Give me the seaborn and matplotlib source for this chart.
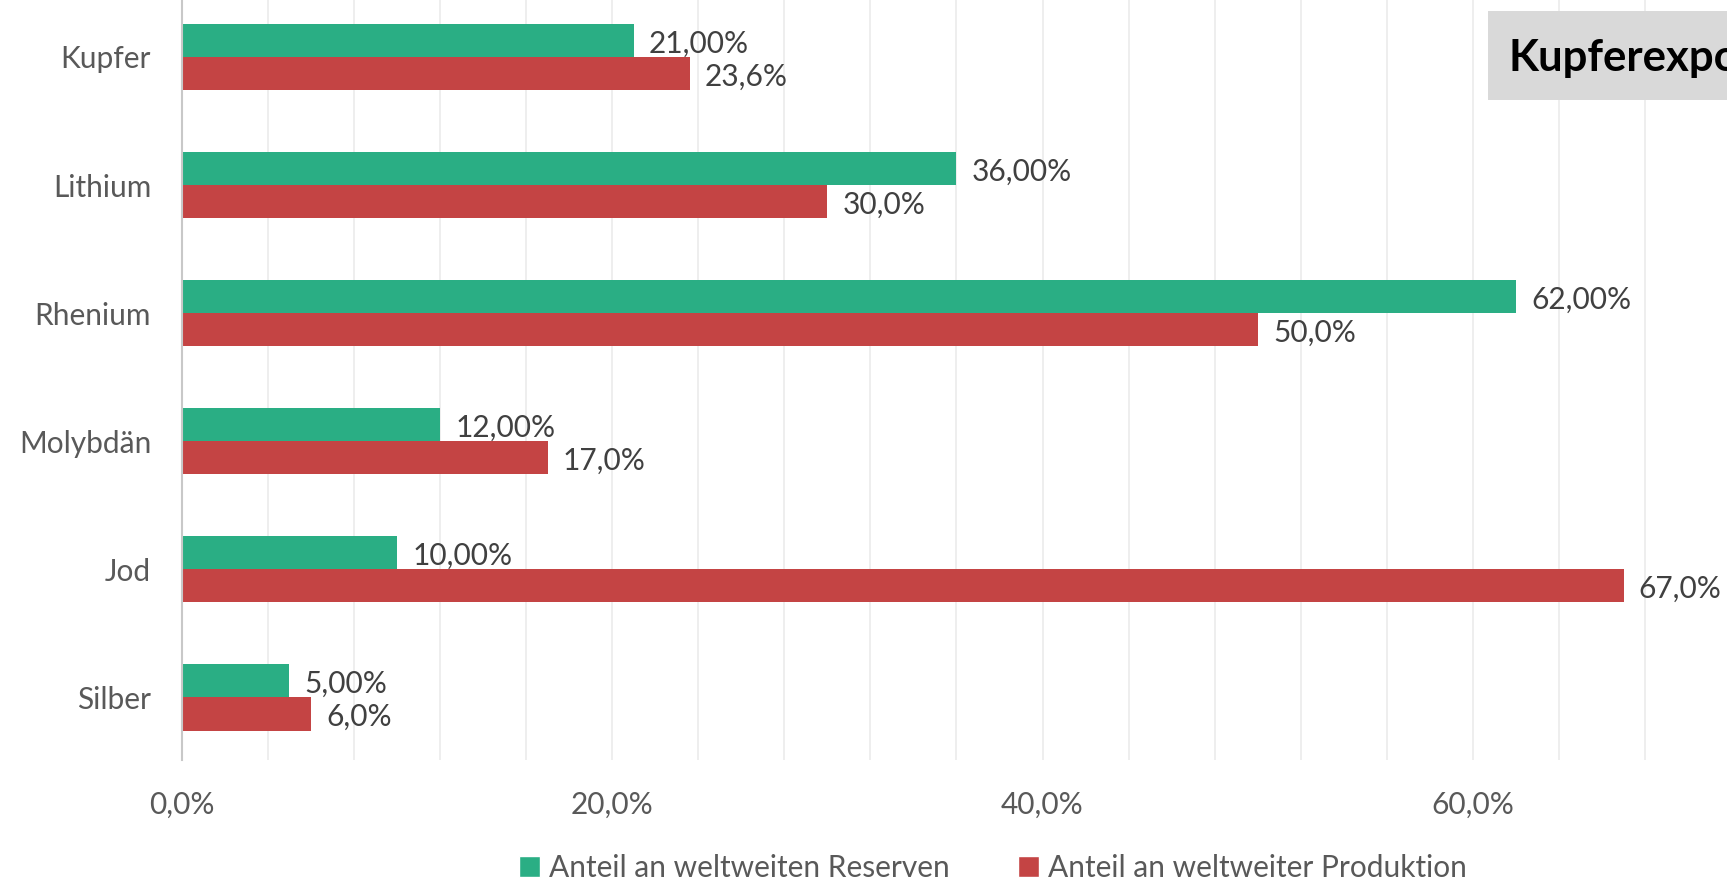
import matplotlib
matplotlib.use("Agg")
import matplotlib.pyplot as plt
import seaborn as sns
import pandas as pd
from matplotlib.ticker import MultipleLocator, FixedLocator, FuncFormatter
from matplotlib.patches import Rectangle

categories = ["Kupfer", "Lithium", "Rhenium", "Molybdän", "Jod", "Silber"]
reserves = [21.0, 36.0, 62.0, 12.0, 10.0, 5.0]
production = [23.6, 30.0, 50.0, 17.0, 67.0, 6.0]
series_names = ["Anteil an weltweiten Reserven", "Anteil an weltweiter Produktion"]
x_ticks = [0, 20, 40, 60]
title_text = "Kupferexporte"

colors = ["#2AAE84", "#C44444"]

df = pd.DataFrame({
    "Rohstoff": categories * 2,
    "Wert": reserves + production,
    "Serie": [series_names[0]] * len(categories) + [series_names[1]] * len(categories),
})

sns.set_theme(style="white")
plt.rcParams["font.family"] = ["Lato", "DejaVu Sans"]

W, H = 1727, 883
fig = plt.figure(figsize=(W / 100, H / 100), dpi=100)
x0 = 181.7
ppu = 21.52
xmax = 72
left = x0 / W
right = (x0 + xmax * ppu) / W
ax = fig.add_axes([left, 1 - 760 / H, right - left, 760 / H])

sns.barplot(data=df, y="Rohstoff", x="Wert", hue="Serie", order=categories,
            hue_order=series_names, palette=colors, width=0.52, orient="h",
            ax=ax, legend=False, saturation=1, edgecolor="none")

ax.set_xlim(0, xmax)
ax.set_ylim(5.49, -0.445)
ax.xaxis.set_major_locator(FixedLocator(x_ticks))
ax.xaxis.set_minor_locator(MultipleLocator(4))
ax.xaxis.set_major_formatter(FuncFormatter(lambda v, p: f"{v:.1f}%".replace(".", ",")))
ax.grid(axis="x", which="both", color="#EBEBEB", linewidth=1.2)
ax.set_axisbelow(True)
ax.tick_params(axis="both", which="both", length=0)
ax.tick_params(axis="x", pad=22, labelsize=21.5, labelcolor="#595959")
ax.tick_params(axis="y", pad=22, labelsize=21.5, labelcolor="#595959")
ax.set_xlabel("")
ax.set_ylabel("")
for s in ["top", "right", "bottom"]:
    ax.spines[s].set_visible(False)
ax.spines["left"].set_color("#C8C8C8")
ax.spines["left"].set_linewidth(1.5)

# data labels
for i, cont in enumerate(ax.containers):
    fmt = (lambda v: f"{v:.2f}%".replace(".", ",")) if i == 0 else (lambda v: f"{v:.1f}%".replace(".", ","))
    labels = [fmt(v) for v in cont.datavalues]
    texts = ax.bar_label(cont, labels=labels, padding=11, fontsize=21.5, color="#404040")
    for t in texts:
        t.xyann = (11, -2.4)

# title box (cut by the figure edge, as in the reference)
fig.patches.append(Rectangle((1488 / W, 1 - 100 / H), 400 / W, 89 / H,
                             transform=fig.transFigure, facecolor="#D9D9D9",
                             edgecolor="none", zorder=5))
fig.text(1509 / W, 1 - 58 / H, title_text, fontsize=31.5, fontweight="bold",
         color="#000000", va="center", ha="left", zorder=6)

# legend
handles = [Rectangle((0, 0), 1, 1, facecolor=c) for c in colors]
fig.legend(handles, series_names, loc="center", bbox_to_anchor=(0.575, 1 - 868 / H),
           ncol=2, frameon=False, fontsize=21.5, labelcolor="#595959",
           handlelength=0.7, handleheight=0.7, handletextpad=0.3, columnspacing=2.3)

fig.savefig("out.png", dpi=100)
